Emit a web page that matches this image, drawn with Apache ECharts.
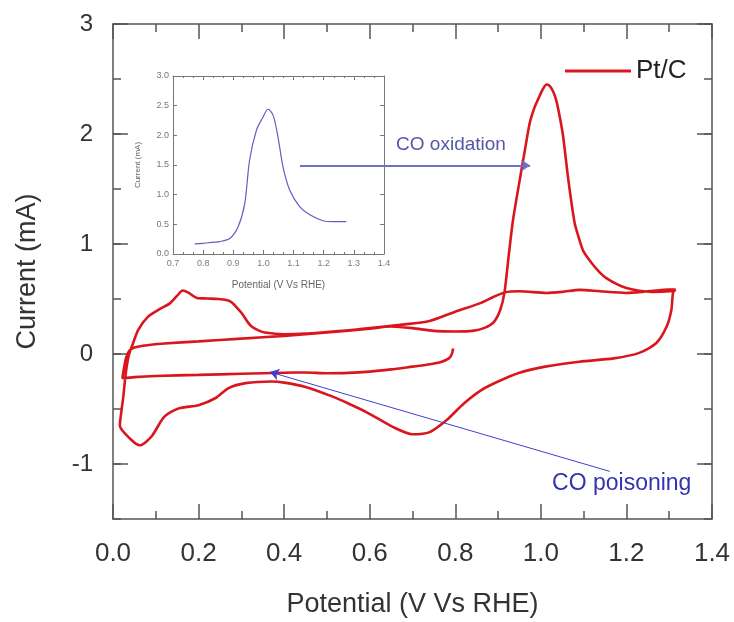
<!DOCTYPE html>
<html>
<head>
<meta charset="utf-8">
<script src="https://cdn.jsdelivr.net/npm/echarts@6/dist/echarts.min.js"></script>
<style>
  html, body { margin: 0; padding: 0; background: #fff; }
  #chart { width: 734px; height: 622px; }
</style>
</head>
<body>
<div id="chart"></div>
<script>
// CV of Pt/C, one array pair per sweep
const sweep1V = [0.795, 0.792, 0.785, 0.765, 0.73, 0.70, 0.65, 0.60, 0.55, 0.50, 0.45, 0.40, 0.30, 0.20, 0.10, 0.05, 0.022];
const sweep1I = [0.05, 0.00, -0.04, -0.075, -0.10, -0.115, -0.14, -0.16, -0.172, -0.175, -0.168, -0.17, -0.18, -0.19, -0.20, -0.21, -0.22];

const sweep2V = [0.022, 0.026, 0.031, 0.038, 0.05, 0.08, 0.12, 0.20, 0.30, 0.40, 0.50, 0.60, 0.65, 0.70, 0.75, 0.80, 0.84, 0.87, 0.89, 0.905, 0.915, 0.925, 0.935, 0.951, 0.963, 0.974, 0.985, 0.994, 1.005, 1.013, 1.02, 1.027, 1.035, 1.042, 1.052, 1.064, 1.079, 1.09, 1.10, 1.12, 1.138, 1.153, 1.18, 1.20, 1.23, 1.26, 1.30, 1.315];
const sweep2I = [-0.22, -0.12, -0.03, 0.03, 0.06, 0.08, 0.095, 0.115, 0.14, 0.165, 0.195, 0.23, 0.25, 0.235, 0.21, 0.205, 0.21, 0.24, 0.29, 0.40, 0.56, 0.90, 1.22, 1.59, 1.86, 2.10, 2.24, 2.32, 2.41, 2.45, 2.44, 2.40, 2.32, 2.20, 1.98, 1.59, 1.19, 1.04, 0.93, 0.82, 0.74, 0.69, 0.63, 0.60, 0.575, 0.565, 0.57, 0.585];

const sweep3V = [1.315, 1.309, 1.305, 1.294, 1.27, 1.23, 1.17, 1.09, 1.01, 0.95, 0.90, 0.86, 0.82, 0.78, 0.74, 0.70, 0.655, 0.593, 0.55, 0.515, 0.45, 0.40, 0.37, 0.31, 0.27, 0.24, 0.20, 0.153, 0.12, 0.09, 0.063, 0.04, 0.016];
const sweep3I = [0.585, 0.56, 0.40, 0.25, 0.10, 0.01, -0.04, -0.07, -0.115, -0.17, -0.25, -0.33, -0.45, -0.60, -0.71, -0.73, -0.665, -0.53, -0.45, -0.39, -0.30, -0.26, -0.25, -0.265, -0.31, -0.40, -0.465, -0.495, -0.57, -0.75, -0.83, -0.77, -0.65];

const sweep4V = [0.016, 0.02, 0.024, 0.028, 0.032, 0.037, 0.047, 0.059, 0.082, 0.11, 0.133, 0.15, 0.163, 0.175, 0.196, 0.22, 0.246, 0.265, 0.277, 0.29, 0.301, 0.315, 0.324, 0.34, 0.355, 0.40, 0.45, 0.50, 0.55, 0.60, 0.67, 0.74, 0.80, 0.857, 0.89, 0.915, 0.95, 1.013, 1.05, 1.091, 1.138, 1.20, 1.25, 1.30, 1.315];
const sweep4I = [-0.65, -0.51, -0.39, -0.24, -0.115, -0.01, 0.10, 0.22, 0.34, 0.41, 0.46, 0.53, 0.577, 0.56, 0.51, 0.505, 0.50, 0.49, 0.47, 0.42, 0.37, 0.29, 0.25, 0.215, 0.195, 0.18, 0.185, 0.20, 0.215, 0.235, 0.265, 0.30, 0.385, 0.46, 0.52, 0.56, 0.57, 0.555, 0.565, 0.583, 0.57, 0.555, 0.57, 0.585, 0.585];

// inset: CO stripping peak
const insetV = [0.772, 0.80, 0.816, 0.855, 0.888, 0.916, 0.938, 0.954, 0.977, 0.999, 1.015, 1.032, 1.048, 1.065, 1.087, 1.12, 1.154, 1.198, 1.231, 1.275];
const insetI = [0.17, 0.18, 0.19, 0.21, 0.26, 0.46, 0.85, 1.58, 2.09, 2.31, 2.44, 2.34, 1.98, 1.47, 1.08, 0.80, 0.66, 0.56, 0.545, 0.545];

const xTicksMain = [0, 1.4, 0.2];
const yMajorValues = [-1, 0, 1, 2, 3];

// annotation arrows [fromV, fromI, toV, toI] and labels
const oxidationArrow = [0.437, 1.714, 0.975, 1.714];
const poisoningArrow = [1.161, -1.067, 0.367, -0.164];
const oxidationLabel = [0.79, 1.905];
const poisoningLabel = [1.189, -1.176];

const zip = (xs, ys) => xs.map((x, i) => [x, ys[i]]);
const cvData = [].concat(
  zip(sweep1V, sweep1I),
  zip(sweep2V, sweep2I),
  zip(sweep3V, sweep3I),
  zip(sweep4V, sweep4I)
);

const font = 'Liberation Sans, Arial, sans-serif';
const frame = { show: true, onZero: false, lineStyle: { color: '#555', width: 1.5 } };
const noLine = { show: false, onZero: false };
const insetFrame = { show: true, onZero: false, lineStyle: { color: '#777', width: 1 } };
const tickStyle = { color: '#555', width: 1.5 };
const mainRect = { left: 113, right: 22, top: 24, bottom: 103, outerBoundsMode: 'none' };

const chart = echarts.init(document.getElementById('chart'), null, { renderer: 'canvas' });

const option = {
  animation: false,
  backgroundColor: '#fff',
  grid: [
    mainRect,
    { left: 173, top: 76, width: 211, height: 178, outerBoundsMode: 'none' },
    mainRect // overlay only for the long major ticks on the y sides
  ],
  legend: {
    data: ['Pt/C'],
    left: 560,
    top: 53,
    icon: 'rect',
    itemWidth: 66,
    itemHeight: 3,
    itemGap: 5,
    textStyle: { fontFamily: font, fontSize: 26, color: '#222' }
  },
  xAxis: [
    {
      type: 'value', gridIndex: 0, min: xTicksMain[0], max: xTicksMain[1], interval: xTicksMain[2],
      name: 'Potential (V Vs RHE)', nameLocation: 'middle', nameGap: 72,
      nameTextStyle: { fontFamily: font, fontSize: 27, color: '#333' },
      axisLine: frame,
      axisTick: { inside: true, length: 15, lineStyle: tickStyle },
      minorTick: { show: true, splitNumber: 2, length: 8, lineStyle: tickStyle },
      axisLabel: { fontFamily: font, fontSize: 26, color: '#333', margin: 22, formatter: v => v.toFixed(1) },
      splitLine: { show: false }
    },
    {
      type: 'value', gridIndex: 0, position: 'top', min: xTicksMain[0], max: xTicksMain[1], interval: xTicksMain[2],
      axisLine: frame,
      axisTick: { inside: true, length: 15, lineStyle: tickStyle },
      minorTick: { show: true, splitNumber: 2, length: 8, lineStyle: tickStyle },
      axisLabel: { show: false },
      splitLine: { show: false }
    },
    {
      type: 'value', gridIndex: 1, min: 0.7, max: 1.4, interval: 0.1,
      name: 'Potential (V Vs RHE)', nameLocation: 'middle', nameGap: 26,
      nameTextStyle: { fontFamily: font, fontSize: 10, color: '#666' },
      axisLine: insetFrame,
      axisTick: { inside: true, length: 4, lineStyle: { color: '#777' } },
      minorTick: { show: true, splitNumber: 3, length: 2, lineStyle: { color: '#777' } },
      axisLabel: { fontFamily: font, fontSize: 9, color: '#778077', margin: 5, formatter: v => v.toFixed(1) },
      splitLine: { show: false }
    },
    {
      type: 'value', gridIndex: 1, position: 'top', min: 0.7, max: 1.4, interval: 0.1,
      axisLine: insetFrame,
      axisTick: { inside: true, length: 4, lineStyle: { color: '#777' } },
      minorTick: { show: true, splitNumber: 3, length: 2, lineStyle: { color: '#777' } },
      axisLabel: { show: false },
      splitLine: { show: false }
    },
    {
      type: 'value', gridIndex: 2, min: xTicksMain[0], max: xTicksMain[1], show: false
    }
  ],
  yAxis: [
    {
      type: 'value', gridIndex: 0, min: -1.5, max: 3, interval: 0.5,
      name: 'Current (mA)', nameLocation: 'middle', nameGap: 72,
      nameTextStyle: { fontFamily: font, fontSize: 27, color: '#333' },
      axisLine: frame,
      axisTick: { inside: true, length: 8, lineStyle: tickStyle },
      axisLabel: { fontFamily: font, fontSize: 24, color: '#333', margin: 20, customValues: yMajorValues },
      splitLine: { show: false }
    },
    {
      type: 'value', gridIndex: 0, position: 'right', min: -1.5, max: 3, interval: 0.5,
      axisLine: frame,
      axisTick: { inside: true, length: 8, lineStyle: tickStyle },
      axisLabel: { show: false },
      splitLine: { show: false }
    },
    {
      type: 'value', gridIndex: 1, min: 0, max: 3, interval: 0.5,
      name: 'Current (mA)', nameLocation: 'middle', nameGap: 31,
      nameTextStyle: { fontFamily: font, fontSize: 8, color: '#666' },
      axisLine: insetFrame,
      axisTick: { inside: true, length: 4, lineStyle: { color: '#777' } },
      axisLabel: { fontFamily: font, fontSize: 9, color: '#777', margin: 4, formatter: v => v.toFixed(1) },
      splitLine: { show: false }
    },
    {
      type: 'value', gridIndex: 1, position: 'right', min: 0, max: 3, interval: 0.5,
      axisLine: insetFrame,
      axisTick: { inside: true, length: 4, lineStyle: { color: '#777' } },
      axisLabel: { show: false },
      splitLine: { show: false }
    },
    {
      type: 'value', gridIndex: 2, position: 'left', min: -1.5, max: 3,
      axisLine: noLine,
      axisTick: { show: true, inside: true, length: 15, customValues: yMajorValues, lineStyle: tickStyle },
      axisLabel: { show: false, customValues: yMajorValues },
      splitLine: { show: false }
    },
    {
      type: 'value', gridIndex: 2, position: 'right', min: -1.5, max: 3,
      axisLine: noLine,
      axisTick: { show: true, inside: true, length: 15, customValues: yMajorValues, lineStyle: tickStyle },
      axisLabel: { show: false, customValues: yMajorValues },
      splitLine: { show: false }
    }
  ],
  series: [
    {
      name: 'Pt/C',
      type: 'line',
      xAxisIndex: 0,
      yAxisIndex: 0,
      data: cvData,
      showSymbol: false,
      symbol: 'none',
      smooth: 0.25,
      itemStyle: { color: '#d9161e' },
      lineStyle: { color: '#d9161e', width: 2.6 },
      z: 3,
      markLine: {
        silent: true,
        symbol: ['none', 'arrow'],
        symbolSize: 9,
        label: { show: false },
        data: [
          [
            { coord: [oxidationArrow[0], oxidationArrow[1]], lineStyle: { color: '#6f6fcc', width: 2, type: 'solid' } },
            { coord: [oxidationArrow[2], oxidationArrow[3]] }
          ],
          [
            { coord: [poisoningArrow[0], poisoningArrow[1]], lineStyle: { color: '#3f3fcf', width: 1, type: 'solid' } },
            { coord: [poisoningArrow[2], poisoningArrow[3]] }
          ]
        ]
      },
      markPoint: {
        silent: true,
        symbol: 'circle',
        symbolSize: 1,
        itemStyle: { color: 'transparent' },
        data: [
          {
            coord: oxidationLabel,
            label: { show: true, position: 'inside', formatter: 'CO oxidation', fontFamily: font, fontSize: 19, color: '#5656a8' }
          },
          {
            coord: poisoningLabel,
            label: { show: true, position: 'inside', formatter: 'CO poisoning', fontFamily: font, fontSize: 23, color: '#3434b0' }
          }
        ]
      }
    },
    {
      name: 'inset',
      type: 'line',
      xAxisIndex: 2,
      yAxisIndex: 2,
      data: zip(insetV, insetI),
      showSymbol: false,
      symbol: 'none',
      smooth: 0.3,
      lineStyle: { color: '#5f5fc4', width: 1.2 }
    }
  ]
};

chart.setOption(option);
</script>
</body>
</html>
